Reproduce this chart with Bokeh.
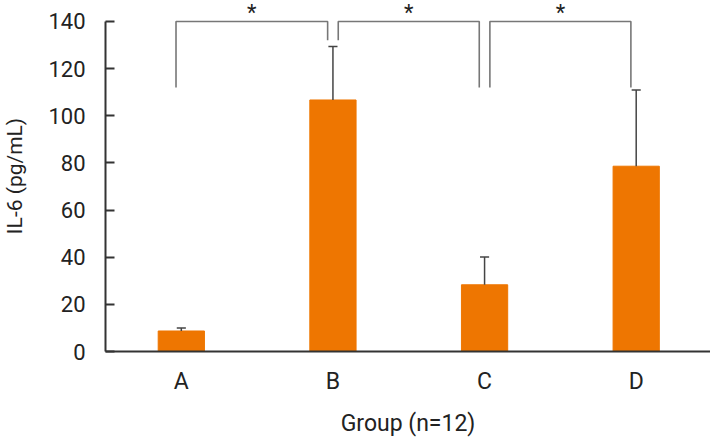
from bokeh.plotting import figure
from bokeh.models import Range1d, FixedTicker, ColumnDataSource
from bokeh.core.properties import value
from bokeh.embed import file_html
from bokeh.resources import INLINE

# ---- data ----
groups = ["A", "B", "C", "D"]
means = [8.7, 106.7, 28.3, 78.6]
sds = [1.3, 22.7, 11.8, 32.3]
y_ticks = [0, 20, 40, 60, 80, 100, 120, 140]
comparisons = [("A", "B"), ("B", "C"), ("C", "D")]
bracket_top = 140
bracket_left_low = [112, 132, 112]
bracket_right_low = [132, 112, 112]
sig_marks = ["*", "*", "*"]

FONT = "Roboto"
BAR = "#EE7601"
AXIS = "#333333"

pos = {g: i + 0.5 for i, g in enumerate(groups)}
xs = [pos[g] for g in groups]

p = figure(width=710, height=439, output_backend="svg", toolbar_location=None,
           x_range=Range1d(0, 3.99), y_range=Range1d(0, 148.9),
           min_border_left=103, min_border_right=0, min_border_top=0,
           min_border_bottom=86)
p.outline_line_color = None
p.grid.grid_line_color = None
p.background_fill_color = "white"

src = ColumnDataSource(dict(x=xs, top=means, err=[m + s for m, s in zip(means, sds)]))
p.vbar(x="x", top="top", width=0.305, bottom=0, source=src,
       fill_color=BAR, line_color=BAR)
# upper error bars
p.segment(x0="x", y0="top", x1="x", y1="err", source=src,
          line_color="#444444", line_width=1.5)
cap = 0.03
p.segment(x0=[x - cap for x in xs], y0=src.data["err"], x1=[x + cap for x in xs],
          y1=src.data["err"], line_color="#444444", line_width=1.5)

# significance brackets
off = 0.035
bx, by, sx, sy = [], [], [], []
for (g1, g2), l1, l2 in zip(comparisons, bracket_left_low, bracket_right_low):
    x1 = pos[g1] + (off if g1 != groups[0] else -off)
    x2 = pos[g2] - off
    bx.append([x1, x1, x2, x2])
    by.append([l1, bracket_top, bracket_top, l2])
    sx.append((x1 + x2) / 2)
    sy.append(bracket_top + 4.0)
p.multi_line(xs=bx, ys=by, line_color="#777777", line_width=1.6)
p.text(x=sx, y=sy, text=sig_marks, text_align="center", text_baseline="middle",
       text_font=value(FONT), text_font_size="22px", text_color="#222222")

# axes
p.xaxis.ticker = FixedTicker(ticks=xs)
p.xaxis.major_label_overrides = {x: g for x, g in zip(xs, groups)}
p.xaxis.major_tick_line_color = None
p.xaxis.minor_tick_line_color = None
p.xaxis.axis_line_color = AXIS
p.xaxis.axis_line_width = 2
p.xaxis.major_label_text_font = FONT
p.xaxis.major_label_text_font_size = "23px"
p.xaxis.major_label_text_color = "#222222"
p.xaxis.major_label_standoff = 10
p.xaxis.axis_label = "Group (n=12)"
p.xaxis.axis_label_text_font = FONT
p.xaxis.axis_label_text_font_size = "23px"
p.xaxis.axis_label_text_font_style = "normal"
p.xaxis.axis_label_text_color = "#222222"
p.xaxis.axis_label_standoff = 12

p.yaxis.ticker = FixedTicker(ticks=y_ticks)
p.yaxis.bounds = (0, 140)
p.yaxis.minor_tick_line_color = None
p.yaxis.major_tick_in = 9
p.yaxis.major_tick_out = 0
p.yaxis.major_tick_line_color = AXIS
p.yaxis.major_tick_line_width = 2
p.yaxis.axis_line_color = AXIS
p.yaxis.axis_line_width = 2
p.yaxis.major_label_text_font = FONT
p.yaxis.major_label_text_font_size = "22px"
p.yaxis.major_label_text_color = "#222222"
p.yaxis.major_label_standoff = 20
p.yaxis.axis_label = "IL-6 (pg/mL)"
p.yaxis.axis_label_text_font = FONT
p.yaxis.axis_label_text_font_size = "21px"
p.yaxis.axis_label_text_font_style = "normal"
p.yaxis.axis_label_text_color = "#222222"
p.yaxis.axis_label_standoff = 18

open("out.html", "w").write(file_html(p, INLINE))
